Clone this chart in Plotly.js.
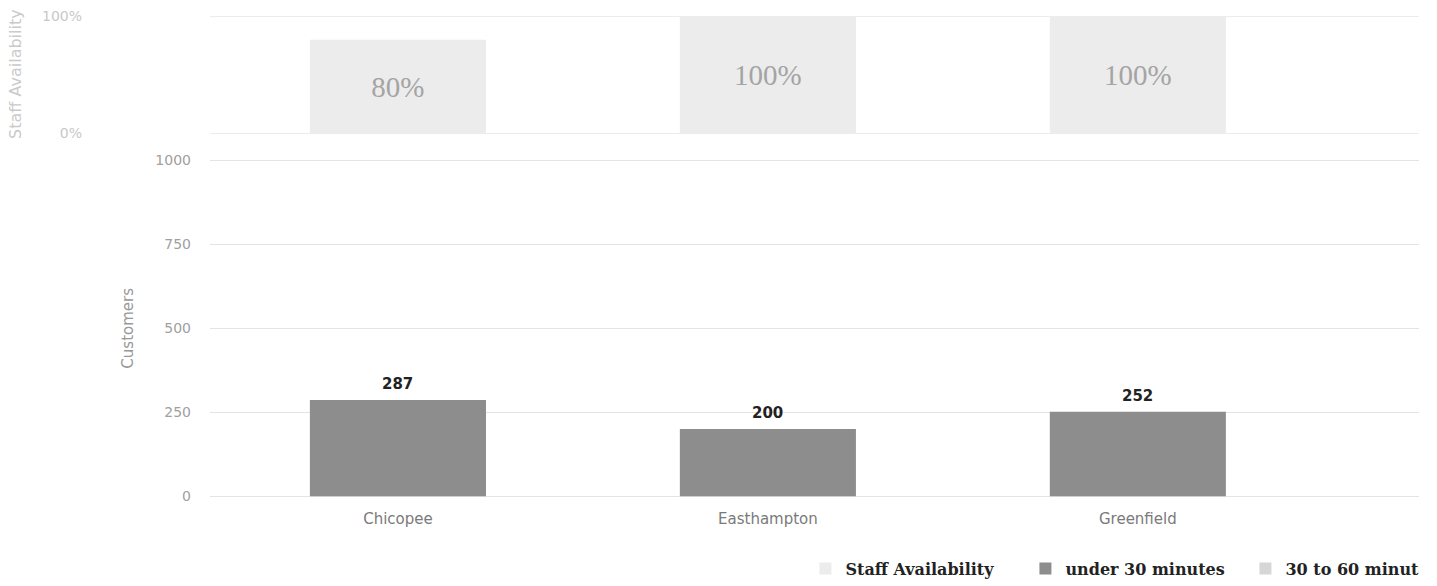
<!DOCTYPE html>
<html>
<head>
<meta charset="utf-8">
<script src="https://cdn.plot.ly/plotly-3.0.1.min.js"></script>
<style>
  html, body { margin: 0; padding: 0; background: #fff; overflow: hidden; }
  #chart { width: 1419px; height: 586px; }
</style>
</head>
<body>
<div id="chart"></div>
<script>
// Locations and their figures
const locations = ['Chicopee', 'Easthampton', 'Greenfield'];
const staffAvailability = [0.8, 1.0, 1.0];     // share of staff available
const under30 = [287, 200, 252];               // customers seen in under 30 minutes
const from30to60 = [0, 0, 0];                  // customers seen in 30 to 60 minutes

const customerTicks = [0, 250, 500, 750, 1000];
const staffTicks = [0, 1];
const staffTickText = ['0%', '100%'];

const barWidth = 0.476;

const traces = [
  {
    type: 'bar', name: 'Staff Availability',
    x: locations, y: staffAvailability,
    xaxis: 'x2', yaxis: 'y2',
    width: barWidth,
    marker: { color: '#ececec' },
    texttemplate: '%{y:.0%}',
    textposition: 'inside',
    insidetextanchor: 'middle',
    textangle: 0,
    constraintext: 'none',
    textfont: { family: 'Liberation Serif, serif', size: 29, color: '#a4a4a4' },
    hoverinfo: 'skip'
  },
  {
    type: 'bar', name: 'under 30 minutes',
    x: locations, y: under30,
    width: barWidth,
    marker: { color: '#8d8d8d' },
    hoverinfo: 'skip'
  },
  {
    type: 'bar', name: '30 to 60 minutes',
    x: locations, y: from30to60,
    width: barWidth,
    marker: { color: '#d6d6d6' },
    hoverinfo: 'skip'
  }
];

// Value labels above the customer bars
const annotations = locations.map((loc, i) => ({
  x: loc, y: under30[i], xref: 'x', yref: 'y',
  text: String(under30[i]),
  showarrow: false, yanchor: 'bottom', yshift: 5,
  font: { family: 'DejaVu Sans, sans-serif', size: 15, color: '#222', weight: 'bold' }
}));

// Title of the upper (staff) panel, set out in the left margin
annotations.push({
  text: 'Staff Availability', xref: 'paper', yref: 'paper',
  x: -0.161, y: 0.877, xanchor: 'center', yanchor: 'middle',
  textangle: -90, showarrow: false,
  font: { family: 'DejaVu Sans, sans-serif', size: 16, color: '#cacaca' }
});

const layout = {
  width: 1419, height: 586,
  margin: { l: 210, r: 0, t: 14, b: 88, autoexpand: false },
  paper_bgcolor: '#fff', plot_bgcolor: '#fff',
  barmode: 'overlay',
  showlegend: true,
  legend: {
    orientation: 'h', x: 0.4925, xanchor: 'left', y: -0.146, yanchor: 'middle',
    font: { family: 'DejaVu Serif, serif', size: 16, color: '#222', weight: 'bold' },
    entrywidth: 175, entrywidthmode: 'pixels',
    traceorder: 'normal', bgcolor: 'rgba(0,0,0,0)'
  },
  xaxis: {
    domain: [0, 1], anchor: 'y',
    type: 'category', range: [-0.508, 2.76],
    showgrid: false, zeroline: false, showline: false, ticks: '',
    ticklabelstandoff: 10,
    tickfont: { family: 'DejaVu Sans, sans-serif', size: 15, color: '#7a7a7a' }
  },
  yaxis: {
    domain: [0, 0.7012], anchor: 'x',
    range: [-5, 1005], tickvals: customerTicks,
    showgrid: true, gridcolor: '#e4e4e4', zeroline: false, showline: false,
    ticks: '', ticklabelstandoff: 18,
    tickfont: { family: 'DejaVu Sans, sans-serif', size: 14, color: '#a0a0a0' },
    title: { text: 'Customers', standoff: 18,
             font: { family: 'DejaVu Sans, sans-serif', size: 15, color: '#999' } }
  },
  xaxis2: {
    domain: [0, 1], anchor: 'y2', matches: 'x',
    type: 'category', showticklabels: false,
    showgrid: false, zeroline: false, showline: false, ticks: ''
  },
  yaxis2: {
    domain: [0.7486, 1], anchor: 'x2',
    range: [-0.02, 1.02], tickvals: staffTicks, ticktext: staffTickText,
    showgrid: true, gridcolor: '#ececec', zeroline: false, showline: false,
    ticks: '', ticklabelstandoff: 127,
    tickfont: { family: 'DejaVu Sans, sans-serif', size: 14, color: '#c8c8c8' }
  },
  annotations: annotations
};

Plotly.newPlot('chart', traces, layout, { staticPlot: true, displayModeBar: false });
</script>
</body>
</html>
